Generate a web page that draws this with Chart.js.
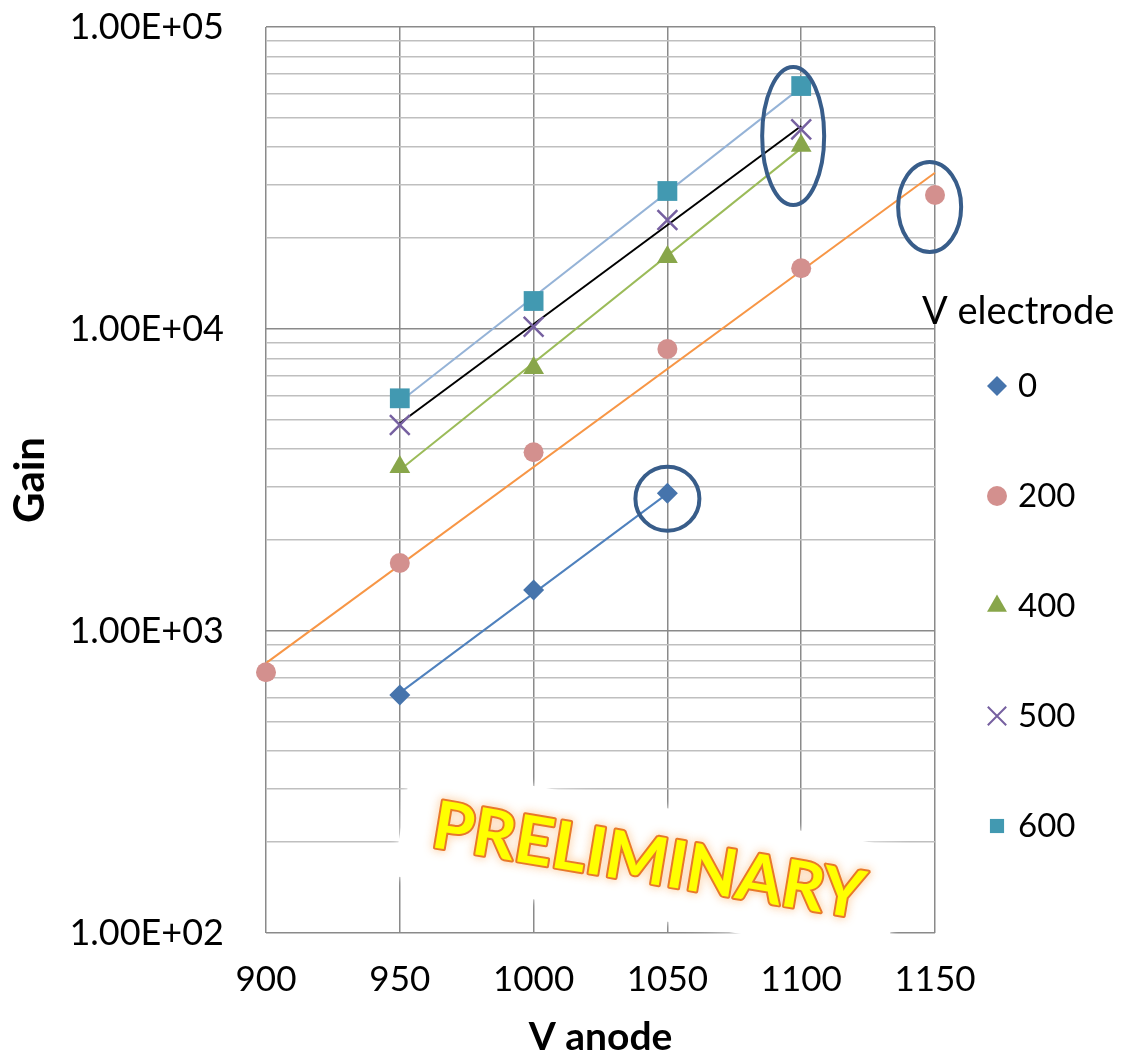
<!DOCTYPE html>
<html>
<head>
  <title>Gain vs V anode</title>
  <script src="https://cdn.jsdelivr.net/npm/chart.js"></script>
  <style>
    body { margin: 0; background: #fff; }
    #wrap { width: 1124px; height: 1054px; }
  </style>
</head>
<body>
  <div id="wrap"><canvas id="gainChart"></canvas></div>
  <script>
    // measured points, one array per V electrode setting
    const vAnode = [900, 950, 1000, 1050, 1100, 1150];
    const seriesNames = ['0', '200', '400', '500', '600'];
    const gain0   = [null, 614, 1367, 2858, null, null];
    const gain200 = [730, 1679, 3906, 8586, 15890, 27780];
    const gain400 = [null, 3490, 7430, 17300, 40450, null];
    const gain500 = [null, 4808, 10180, 22960, 45820, null];
    const gain600 = [null, 5895, 12380, 28640, 63760, null];

    // exponential trend lines (straight on log axis), end points
    const trendX0 = [950, 1050],   trend0 = [624, 2850];
    const trendX200 = [900, 1150], trend200 = [783, 32930];
    const trendX400 = [950, 1100], trend400 = [3414, 39630];
    const trendX500 = [950, 1100], trend500 = [4872, 46990];
    const trendX600 = [950, 1100], trend600 = [5740, 63100];

    const xTicks = [900, 950, 1000, 1050, 1100, 1150];
    const gainTicks = [100, 200, 300, 400, 500, 600, 700, 800, 900,
                       1000, 2000, 3000, 4000, 5000, 6000, 7000, 8000, 9000,
                       10000, 20000, 30000, 40000, 50000, 60000, 70000, 80000, 90000,
                       100000];

    // points circled on the plot: x in V, y in gain
    const circledX = [1050, 1097, 1148];
    const circledY = [2740, 43550, 25350];

    const markerColors = ['#4674AC', '#D3908E', '#88A64A', '#7660A0', '#4299B1'];
    const markerStyles = ['rectRot', 'circle', 'triangle', 'crossRot', 'rect'];
    const markerSizes = [10.5, 10, 12, 14, 14];
    const trendColors = ['#4F81BD', '#F79646', '#9BBB59', '#000000', '#95B3D7'];

    const gains = [gain0, gain200, gain400, gain500, gain600];
    const trendXs = [trendX0, trendX200, trendX400, trendX500, trendX600];
    const trends = [trend0, trend200, trend400, trend500, trend600];

    const toPoints = (xs, ys) => xs.map((x, i) => ({ x: x, y: ys[i] })).filter(p => p.y != null);

    const datasets = [];
    gains.forEach((g, i) => {
      const isCross = markerStyles[i] === 'crossRot';
      datasets.push({
        label: seriesNames[i],
        data: toPoints(vAnode, g),
        pointStyle: markerStyles[i],
        pointRadius: markerSizes[i],
        pointHoverRadius: markerSizes[i],
        backgroundColor: markerColors[i],
        borderColor: markerColors[i],
        borderWidth: isCross ? 2.5 : 0,
        showLine: false,
        clip: false
      });
    });
    trends.forEach((t, i) => {
      datasets.push({
        label: 'trend ' + seriesNames[i],
        data: toPoints(trendXs[i], t),
        showLine: true,
        borderColor: trendColors[i],
        borderWidth: 2,
        pointRadius: 0,
        clip: false
      });
    });

    const isDecade = v => Math.abs(Math.log10(v) - Math.round(Math.log10(v))) < 1e-9;
    const sci = v => {
      const e = Math.round(Math.log10(v));
      return '1.00E+' + (e < 10 ? '0' : '') + e;
    };

    const extras = {
      id: 'extras',
      afterDatasetsDraw(chart) {
        const { ctx, scales: { x, y } } = chart;
        ctx.save();
        // circles round the suspicious points
        ctx.strokeStyle = '#385D8A';
        ctx.lineWidth = 4;
        const rx = [32, 31, 31.5], ry = [32, 69, 45];
        circledX.forEach((cx, i) => {
          ctx.beginPath();
          ctx.ellipse(x.getPixelForValue(cx), y.getPixelForValue(circledY[i]), rx[i], ry[i], 0, 0, Math.PI * 2);
          ctx.stroke();
        });

        // PRELIMINARY stamp
        const sx = x.getPixelForValue(1043), sy = y.getPixelForValue(172);
        ctx.translate(sx, sy);
        ctx.rotate(9.5 * Math.PI / 180);
        ctx.shadowColor = '#ffffff';
        ctx.shadowBlur = 8;
        ctx.fillStyle = '#ffffff';
        ctx.fillRect(-250, -56, 500, 112);
        ctx.font = 'bold 66px Lato, sans-serif';
        ctx.textAlign = 'center';
        ctx.textBaseline = 'middle';
        ctx.shadowColor = 'rgba(250,170,90,0.8)';
        ctx.shadowBlur = 10;
        ctx.lineJoin = 'round';
        ctx.strokeStyle = '#E8782A';
        ctx.lineWidth = 4;
        ctx.strokeText('PRELIMINARY', 0, 0);
        ctx.shadowBlur = 0;
        ctx.fillStyle = '#FFFF00';
        ctx.fillText('PRELIMINARY', 0, 0);
        ctx.restore();
      },
      afterDraw(chart) {
        // legend at the right, drawn by hand to sit where the original does
        const ctx = chart.ctx;
        ctx.save();
        ctx.fillStyle = '#000';
        ctx.textBaseline = 'middle';
        ctx.textAlign = 'left';
        ctx.font = '38px Lato, sans-serif';
        ctx.fillText('V electrode', 922, 312);
        ctx.font = '33px Lato, sans-serif';
        seriesNames.forEach((name, i) => {
          const ly = 386 + i * 110;
          const ds = chart.data.datasets[i];
          ctx.fillStyle = ds.backgroundColor;
          ctx.strokeStyle = ds.borderColor;
          ctx.lineWidth = 2;
          Chart.helpers.drawPoint(ctx, {
            pointStyle: ds.pointStyle,
            radius: ds.pointStyle === 'crossRot' ? 13 : (ds.pointStyle === 'triangle' ? 11.5 : 10),
            rotation: 0,
            borderWidth: ds.pointStyle === 'crossRot' ? 2 : 0
          }, 997, ly);
          ctx.fillStyle = '#000';
          ctx.fillText(name, 1018, ly);
        });
        ctx.restore();
      }
    };

    new Chart(document.getElementById('gainChart'), {
      type: 'scatter',
      data: { datasets: datasets },
      plugins: [extras],
      options: {
        responsive: true,
        maintainAspectRatio: false,
        animation: false,
        layout: { padding: { top: 27, right: 189, left: 0, bottom: 0 } },
        plugins: {
          legend: { display: false },
          tooltip: { enabled: false }
        },
        scales: {
          x: {
            type: 'linear',
            min: 900,
            max: 1150,
            afterBuildTicks: s => { s.ticks = xTicks.map(v => ({ value: v })); },
            afterFit: s => { s.height = 121; s.paddingLeft = 0; s.paddingRight = 0; },
            grid: { color: '#8A8A8A', lineWidth: 1.5, drawTicks: false },
            border: { display: false },
            ticks: {
              padding: 26,
              autoSkip: false,
              color: '#000',
              font: { size: 35, family: 'Lato, sans-serif' },
              callback: v => String(v)
            },
            title: {
              display: true,
              text: 'V anode',
              color: '#000',
              font: { size: 39, weight: 'bold', family: 'Lato, sans-serif', lineHeight: 1 },
              padding: { top: 0, bottom: -3 }
            }
          },
          y: {
            type: 'logarithmic',
            min: 100,
            max: 100000,
            afterBuildTicks: s => { s.ticks = gainTicks.map(v => ({ value: v })); },
            afterFit: s => { s.width = 266; s.paddingTop = 0; s.paddingBottom = 0; },
            grid: {
              color: c => (c.tick && isDecade(c.tick.value)) ? '#8A8A8A' : '#BFBFBF',
              lineWidth: 1.5,
              drawTicks: false
            },
            border: { display: false },
            ticks: {
              padding: 42,
              autoSkip: false,
              color: '#000',
              font: { size: 36, family: 'Lato, sans-serif' },
              callback: v => isDecade(v) ? sci(v) : ''
            },
            title: {
              display: true,
              text: 'Gain',
              color: '#000',
              font: { size: 42, weight: 'bold', family: 'Lato, sans-serif' },
              padding: { top: 5, bottom: 0 }
            }
          }
        }
      }
    });
  </script>
</body>
</html>
